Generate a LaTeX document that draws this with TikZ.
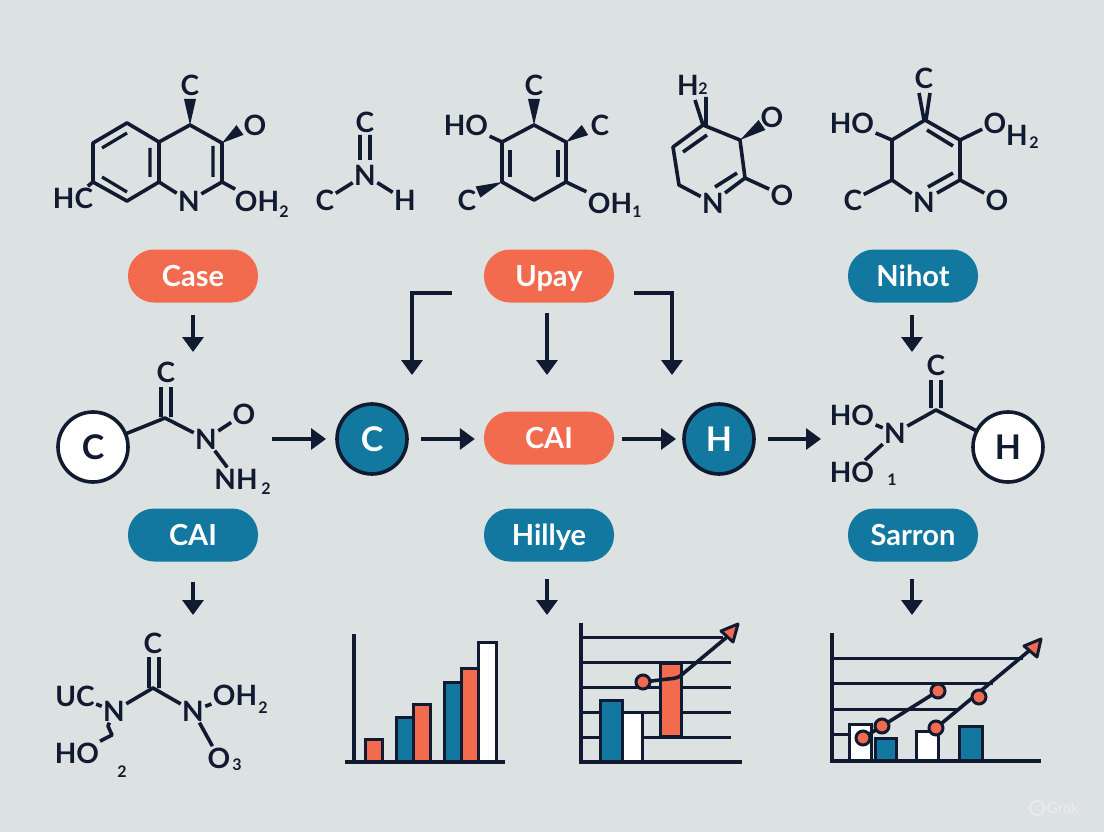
\documentclass[tikz,border=0pt]{standalone}
\usepackage{fontspec}
\setmainfont{Lato}
\usetikzlibrary{arrows.meta,calc}
\definecolor{ink}{HTML}{101A30}
\definecolor{coral}{HTML}{F36B4F}
\definecolor{teal}{HTML}{12789F}
\definecolor{paper}{HTML}{DCE1E1}
\tikzset{
  atom/.style={inner sep=1.5pt,outer sep=0pt,text=ink,font=\bfseries\fontsize{28}{28}\selectfont},
  tiny/.style={inner sep=0pt,text=ink,font=\bfseries\fontsize{16}{16}\selectfont},
  bond/.style={ink,line width=3.6pt},
  thin bond/.style={ink,line width=3.2pt},
  arr/.style={ink,line width=3.4pt,-{Triangle[length=15pt,width=21pt]}},
  pill/.style={minimum width=130pt,minimum height=53pt,rounded corners=26pt,inner sep=0pt,text=white,
    font=\bfseries\fontsize{29}{29}\selectfont,text height=25pt,text depth=5pt},
  ball/.style={circle,draw=ink,line width=3.6pt,minimum size=70pt,inner sep=0pt,outer sep=0pt,
    font=\bfseries\fontsize{34}{34}\selectfont},
  bar/.style={draw=ink,line width=3pt},
  grid line/.style={ink,line width=3pt},
  dot/.style={circle,fill=coral,draw=ink,line width=3pt,minimum size=14pt,inner sep=0pt},
  head/.style={fill=coral,draw=ink,line width=3pt,line join=round}
}
\newcommand{\wedgeb}[2]{\fill[ink] (#1) -- ($(#2)!6pt!90:(#1)$) -- ($(#2)!6pt!-90:(#1)$) -- cycle;}
\begin{document}
\begin{tikzpicture}[x=1pt,y=-1pt]
\useasboundingbox (0,0) rectangle (1104,832);
\fill[paper] (0,0) rectangle (1104,832);
\foreach \p/\c/\t/\x/\y in {case/coral/Case/193/276,upay/coral/Upay/549/276,nihot/teal/Nihot/913/276,
  caia/teal/CAI/193/535,hillye/teal/Hillye/549/535,sarron/teal/Sarron/913/535,caib/coral/CAI/549/438}{
  \node[pill,fill=\c] (\p) at (\x,\y) {\t};}
\node[ball,fill=white,text=ink] (c1) at (93,447) {C};
\node[ball,fill=teal,text=white] (c2) at (372,439) {C};
\node[ball,fill=teal,text=white] (h1) at (719,439) {H};
\node[ball,fill=white,text=ink] (h2) at (1008,447) {H};
% top row
\foreach \p/\t/\x/\y in {a/C/190/85,b/O/255/125,d/N/189/201,e/OH/257/201,f/HC/73/198,
  g/C/365/122,i/N/365/175,j/C/325/200,k/H/405/200,
  l/C/534/85,m/HO/466/125,n/C/600/125,o/C/467/200,q/OH/610/203,
  r/H/688/85,s/O/772/117,t/N/713/203,u/O/782/195,
  v/C/924/78,w/HO/852/123,y/O/995/123,z/H/1017/135,aa/C/853/200,ab/N/924/202,ac/O/997/200}{
  \node[atom] (\p) at (\x,\y) {\t};}
\foreach \p/\t/\x/\y in {e2/2/284/212,q1/1/637/212,r2/2/703/89,z2/2/1034/143}{\node[tiny] (\p) at (\x,\y) {\t};}
\coordinate (A1) at (127,123); \coordinate (A2) at (93,143); \coordinate (A3) at (93,182);
\coordinate (A4) at (127,201); \coordinate (A5) at (159,182); \coordinate (A6) at (159,142);
\coordinate (A7) at (190,125); \coordinate (A8) at (222,143); \coordinate (A9) at (222,182);
\draw[bond,line join=round] (A3)--(A2)--(A1)--(A6)--(A5)--(A4)--(A3) (A6)--(A7)--(A8)--(A9);
\draw[bond] (A5)--(d) (A9)--(d) (A9)--(e) (A3)--(f);
\draw[thin bond] (102,148)--(127,133) (102,177)--(127,192) (150,148)--(150,177) (213,146)--(213,177);
\coordinate (A10) at (190,99); \coordinate (A11) at (240,130);
\wedgeb{A7}{A10} \wedgeb{A8}{A11}
\draw[bond] (360,135)--(360,160) (370,135)--(370,160) (j)--(i) (i)--(k);
\coordinate (B1) at (534,125); \coordinate (B2) at (566,142); \coordinate (B3) at (566,182);
\coordinate (B4) at (534,200); \coordinate (B5) at (502,182); \coordinate (B6) at (502,142);
\draw[bond,line join=round] (B1)--(B2)--(B3)--(B4)--(B5)--(B6)--cycle;
\draw[bond] (B6)--(m) (B3)--(q);
\draw[thin bond] (510,150)--(510,177) (558,150)--(558,177);
\coordinate (B7) at (534,99); \coordinate (B8) at (585,130); \coordinate (B9) at (478,192);
\wedgeb{B1}{B7} \wedgeb{B2}{B8} \wedgeb{B5}{B9}
\coordinate (D1) at (703,125); \coordinate (D2) at (740,140); \coordinate (D3) at (745,178);
\coordinate (D4) at (679,185); \coordinate (D5) at (673,147); \coordinate (D6) at (762,125);
\draw[bond,line join=round] (t)--(D4)--(D5)--(D1)--(D2)--(D3)--(u);
\draw[bond] (D3)--(725,193) (737,173)--(715,187) (707,135)--(683,152);
\draw[bond] (706,97)--(706,125) (695,100)--(D1);
\wedgeb{D2}{D6}
\coordinate (E1) at (925,120); \coordinate (E2) at (892,140); \coordinate (E3) at (892,180);
\coordinate (E4) at (960,140); \coordinate (E5) at (960,180);
\draw[bond,line join=round] (ab)--(E3)--(E2)--(E1)--(E4)--(E5)--(937,193);
\draw[bond] (E2)--(w) (E3)--(aa) (E4)--(y) (E5)--(ac);
\draw[bond] (919,93)--(924,120) (930,93)--(926,120) (927,130)--(953,146) (928,187)--(953,173);
% arrows
\coordinate (p1) at (193,352); \coordinate (p2) at (412,375); \coordinate (p3) at (547,375);
\coordinate (p4) at (672,375); \coordinate (p5) at (912,352); \coordinate (p6) at (193,615);
\coordinate (p7) at (547,615); \coordinate (p8) at (912,615); \coordinate (p9) at (272,439);
\coordinate (p10) at (821,439);
\draw[arr,shorten <=12pt] (case)--(p1);
\draw[arr,shorten <=10pt] (upay.south-|p3)--(p3);
\draw[arr,shorten <=12pt] (nihot.south-|p5)--(p5);
\draw[arr,shorten <=32pt] ([yshift=-17pt]upay.west) -| (p2);
\draw[arr,shorten <=20pt] ([yshift=-17pt]upay.east) -| (p4);
\draw[arr,shorten <=20pt] (caia)--(p6);
\draw[arr,shorten <=17pt] (hillye.south-|p7)--(p7);
\draw[arr,shorten <=17pt] (sarron.south-|p8)--(p8);
\draw[arr,shorten >=11pt] (p9)--(c2);
\draw[arr,shorten <=14pt,shorten >=9pt] (c2)--(caib.west|-c2);
\draw[arr,shorten <=8pt,shorten >=8pt] (caib.east|-h1)--(h1);
\draw[arr,shorten <=14pt] (h1)--(p10);
% middle row
\foreach \p/\t/\x/\y in {ca/C/166/372,cb/N/206/439,cc/O/244/414,cd/NH/236/479,
  da/C/936/365,db/HO/852/415,dc/HO/852/472,dd/N/895/433}{\node[atom] (\p) at (\x,\y) {\t};}
\foreach \p/\t/\x/\y in {cd2/2/266/489,dc1/1/892/480}{\node[tiny] (\p) at (\x,\y) {\t};}
\coordinate (C1) at (165,418); \coordinate (C2) at (936,410);
\draw[bond,line join=round] (c1)--(C1)--(cb) (dd)--(C2)--(h2);
\draw[bond] (161,387)--(161,417) (171,387)--(171,417) (cb)--(cc) (cb)--(cd);
\draw[bond] (931,380)--(931,408) (941,380)--(941,408) (db)--(dd) (dc)--(dd);
% bottom left
\foreach \p/\t/\x/\y in {ea/C/153/643,eb/N/114/711,ec/N/193/711,ed/UC/75/696,ee/OH/235/695,
  ef/HO/77/753,eg/O/219/758}{\node[atom] (\p) at (\x,\y) {\t};}
\foreach \p/\t/\x/\y in {ee2/2/263/708,ef2/2/122/772,eg3/3/237/765}{\node[tiny] (\p) at (\x,\y) {\t};}
\coordinate (F1) at (153,688); \coordinate (F2) at (112,735);
\draw[bond,line join=round] (eb)--(F1)--(ec);
\draw[bond] (149,657)--(149,688) (159,657)--(159,688) (ed)--(eb) (ec)--(ee) (ec)--(eg);
\draw[bond,line join=round] (eb)--(108,726)--(F2)--(ef);
% charts
\foreach \x/\y/\w/\c in {365/739/17/coral,396/717/17/teal,413/704/17/coral,444/682/17/teal,461/668/17/coral,478/642/18/white}{
  \draw[bar,fill=\c] (\x,762) rectangle ++(\w,\y-762);}
\draw[grid line,line width=3.4pt] (354,634)--(354,762) (345,762)--(505,762);
\foreach \y/\x in {637/723,662/731,687/731,712/731,737/731}{\draw[grid line] (581,\y)--(\x,\y);}
\draw[bar,fill=teal] (600,762) rectangle (622,700);
\draw[bar,fill=white] (622,762) rectangle (642,712);
\draw[bar,fill=coral] (660,736) rectangle (681,663);
\draw[grid line,line width=3.4pt] (581,623)--(581,762)--(742,762);
\coordinate (ga) at (643,682); \coordinate (G1) at (727,637); \coordinate (G2) at (738,624);
\draw[bond] (ga) -- (668,679) .. controls (678,678) and (678,678) .. (685,672) -- (G1);
\node[dot] (gb) at (ga) {};
\draw[head] (G2)--(721,631)--(733,642)--cycle;
\foreach \y/\x in {658/1023,683/993,709/960,734/850}{\draw[grid line] (832,\y)--(\x,\y);}
\draw[bar,fill=white] (849,761) rectangle (871,724);
\draw[bar,fill=teal] (875,761) rectangle (896,738);
\draw[bar,fill=white] (916,761) rectangle (938,731);
\draw[bar,fill=teal] (959,761) rectangle (982,726);
\draw[grid line,line width=3.4pt] (832,633)--(832,761)--(1041,761);
\coordinate (H1) at (1030,650); \coordinate (H2) at (1041,639);
\draw[bond] (863,738)--(938,691) (936,728)--(H1);
\foreach \p/\x/\y in {ha/863/738,hb/882/726,hc/938/691,hd/936/728,he/979/697}{\node[dot] (\p) at (\x,\y) {};}
\draw[head] (H2)--(1024,646)--(1037,657)--cycle;
\node[text=white,opacity=.4,font=\fontsize{15}{15}\selectfont] (grok) at (1063,808) {Grok};
\draw[white,opacity=.4,line width=1.5pt] (1037,808) circle (7);
\end{tikzpicture}
\end{document}
